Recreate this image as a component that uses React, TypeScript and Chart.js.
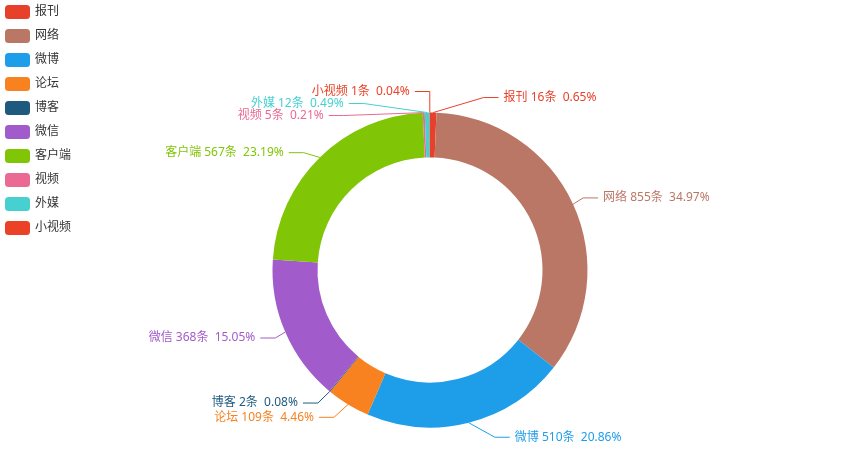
import React, { useEffect, useRef } from 'react';
import { Chart, registerables } from 'chart.js';

Chart.register(...registerables);

const categories = ['报刊', '网络', '微博', '论坛', '博客', '微信', '客户端', '视频', '外媒', '小视频'];
const counts = [16, 855, 510, 109, 2, 368, 567, 5, 12, 1];
const colors = ['#e8412b', '#bb7766', '#1e9de9', '#f7821f', '#1e5a7e', '#a25bca', '#80c506', '#ea6a93', '#46d0d0', '#eb4127'];
const unit = '条';

const FONT = '12px "Microsoft YaHei", "Noto Sans", "Noto Sans CJK SC", sans-serif';

// percentages with a fixed number of digits that add up to 100 (largest remainder)
function percentsWithPrecision(vals: number[], digits: number): string[] {
  const sum = vals.reduce((a, b) => a + b, 0);
  const scale = Math.pow(10, digits);
  const target = 100 * scale;
  const raw = vals.map((v) => (v / sum) * target);
  const seats = raw.map((v) => Math.floor(v));
  let cur = seats.reduce((a, b) => a + b, 0);
  const rem = raw.map((v, i) => v - seats[i]);
  while (cur < target) {
    let best = -1;
    let idx = -1;
    rem.forEach((r, i) => {
      if (r > best) {
        best = r;
        idx = i;
      }
    });
    seats[idx]++;
    rem[idx] = 0;
    cur++;
  }
  return seats.map((s) => (s / scale).toFixed(digits));
}

type Item = {
  i: number;
  x: number;
  y: number;
  height: number;
  len: number;
  len2: number;
  pts: number[][];
};

function adjustSingleSide(list: Item[], cx: number, cy: number, r: number, dir: number, viewHeight: number, viewTop: number) {
  list.sort((a, b) => a.y - b.y);

  function shiftDown(start: number, end: number, delta: number) {
    for (let j = start; j < end; j++) {
      if (list[j].y + delta > viewTop + viewHeight) break;
      list[j].y += delta;
      if (j > start && j + 1 < end && list[j + 1].y > list[j].y + list[j].height) {
        shiftUp(j, delta / 2);
        return;
      }
    }
    shiftUp(end - 1, delta / 2);
  }

  function shiftUp(end: number, delta: number) {
    for (let j = end; j >= 0; j--) {
      if (list[j].y - delta < viewTop) break;
      list[j].y -= delta;
      if (j > 0 && list[j].y > list[j - 1].y + list[j - 1].height) break;
    }
  }

  function changeX(items: Item[], isDownList: boolean) {
    let lastDeltaX = isDownList ? Number.MAX_VALUE : 0;
    for (let i = 0; i < items.length; i++) {
      const it = items[i];
      const deltaY = Math.abs(it.y - cy);
      const R = r + it.len + it.len2;
      let deltaX = deltaY < r + it.len ? Math.sqrt(R * R - deltaY * deltaY) : Math.abs(it.x - cx);
      if (isDownList && deltaX >= lastDeltaX) deltaX = lastDeltaX - 10;
      if (!isDownList && deltaX <= lastDeltaX) deltaX = lastDeltaX + 10;
      it.x = cx + deltaX * dir;
      lastDeltaX = deltaX;
    }
  }

  let lastY = 0;
  const len = list.length;
  for (let i = 0; i < len; i++) {
    const delta = list[i].y - lastY;
    if (delta < 0) shiftDown(i, len, -delta);
    lastY = list[i].y + list[i].height;
  }
  if (viewHeight - lastY < 0) shiftUp(len - 1, lastY - viewHeight);

  const upList: Item[] = [];
  const downList: Item[] = [];
  for (let i = 0; i < len; i++) {
    if (list[i].y >= cy) downList.push(list[i]);
    else upList.push(list[i]);
  }
  changeX(upList, false);
  changeX(downList, true);
}

const pieLabels = {
  id: 'pieLabels',
  afterDatasetsDraw(chart: any) {
    const meta = chart.getDatasetMeta(0);
    const ctx: CanvasRenderingContext2D = chart.ctx;
    const len = 15;
    const len2 = 15;
    const labelDistance = 5;
    const pct = percentsWithPrecision(counts, 2);
    let cx = 0;
    let cy = 0;
    let r = 0;
    const items: Item[] = meta.data.map((arc: any, i: number) => {
      const p = arc.getProps(['x', 'y', 'startAngle', 'endAngle', 'outerRadius'], true);
      cx = p.x;
      cy = p.y;
      r = p.outerRadius;
      const mid = (p.startAngle + p.endAngle) / 2;
      const dx = Math.cos(mid);
      const dy = Math.sin(mid);
      const x1 = cx + r * dx;
      const y1 = cy + r * dy;
      const x2 = x1 + len * dx;
      const y2 = y1 + len * dy;
      const sign = dx < 0 ? -1 : 1;
      const x3 = x2 + sign * len2;
      return {
        i,
        x: x3 + sign * labelDistance,
        y: y2,
        height: 12,
        len,
        len2,
        pts: [[x1, y1], [x2, y2], [x3, y2]],
      };
    });

    const left = items.filter((it) => it.x < cx);
    const right = items.filter((it) => it.x >= cx);
    adjustSingleSide(right, cx, cy, r, 1, chart.height, 0);
    adjustSingleSide(left, cx, cy, r, -1, chart.height, 0);

    ctx.save();
    ctx.font = FONT;
    ctx.lineWidth = 1;
    items.forEach((it) => {
      const isLeft = it.x < cx;
      const pts = it.pts;
      const dist = pts[1][0] - pts[2][0];
      pts[2][0] = isLeft ? it.x + labelDistance : it.x - labelDistance;
      pts[1][0] = pts[2][0] + dist;
      pts[1][1] = pts[2][1] = it.y;
      const col = colors[it.i];
      ctx.strokeStyle = col;
      ctx.beginPath();
      ctx.moveTo(pts[0][0], pts[0][1]);
      ctx.lineTo(pts[1][0], pts[1][1]);
      ctx.lineTo(pts[2][0], pts[2][1]);
      ctx.stroke();
      ctx.fillStyle = col;
      ctx.textAlign = isLeft ? 'right' : 'left';
      ctx.textBaseline = 'middle';
      const txt = `${categories[it.i]} ${counts[it.i]}${unit}  ${pct[it.i]}%`;
      ctx.fillText(txt, it.x, it.y);
    });
    ctx.restore();
  },
  afterDraw(chart: any) {
    const ctx: CanvasRenderingContext2D = chart.ctx;
    ctx.save();
    ctx.font = FONT;
    categories.forEach((name, i) => {
      const x = 5;
      const y = 5 + i * 24;
      const w = 25;
      const h = 14;
      const rr = 3.5;
      ctx.fillStyle = colors[i];
      ctx.beginPath();
      ctx.moveTo(x + rr, y);
      ctx.lineTo(x + w - rr, y);
      ctx.arcTo(x + w, y, x + w, y + rr, rr);
      ctx.lineTo(x + w, y + h - rr);
      ctx.arcTo(x + w, y + h, x + w - rr, y + h, rr);
      ctx.lineTo(x + rr, y + h);
      ctx.arcTo(x, y + h, x, y + h - rr, rr);
      ctx.lineTo(x, y + rr);
      ctx.arcTo(x, y, x + rr, y, rr);
      ctx.closePath();
      ctx.fill();
      ctx.fillStyle = '#333';
      ctx.textAlign = 'left';
      ctx.textBaseline = 'middle';
      ctx.fillText(name, x + w + 5, y + h / 2);
    });
    ctx.restore();
  },
};

export default function App() {
  const ref = useRef<HTMLCanvasElement | null>(null);
  useEffect(() => {
    if (!ref.current) return;
    const chart = new Chart(ref.current, {
      type: 'doughnut',
      data: {
        labels: categories,
        datasets: [
          {
            data: counts,
            backgroundColor: colors,
            borderWidth: 0,
            hoverOffset: 0,
          },
        ],
      },
      options: {
        responsive: false,
        animation: false,
        radius: 157.5,
        cutout: `${(112.5 / 157.5) * 100}%`,
        layout: { padding: { top: 90, left: 0, right: 0, bottom: 0 } },
        plugins: {
          legend: { display: false },
          tooltip: { enabled: false },
        },
      } as any,
      plugins: [pieLabels],
    });
    return () => chart.destroy();
  }, []);
  return (
    <div style={{ position: 'absolute', left: 0, top: 0, width: 860, height: 450, background: '#fff' }}>
      <canvas ref={ref} width={860} height={450} />
    </div>
  );
}
